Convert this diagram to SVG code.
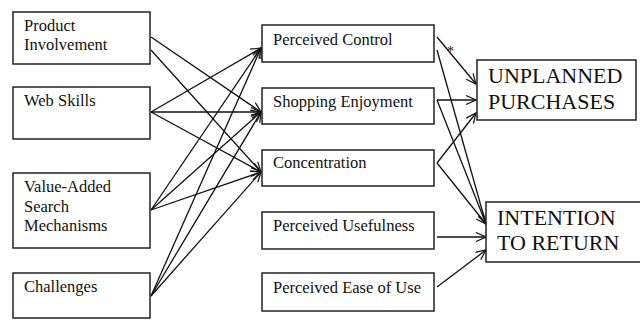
<svg xmlns="http://www.w3.org/2000/svg" width="640" height="320" viewBox="0 0 640 320">
<defs>
<marker id="ah" markerWidth="12" markerHeight="10" refX="11" refY="5" orient="auto" markerUnits="userSpaceOnUse">
<path d="M1,0.5 L11,5 L1,9.5" fill="none" stroke="#111" stroke-width="1.2"/>
</marker>
<style>
.box{fill:#fff;stroke:#222;stroke-width:1.5}
.t{font-family:"Liberation Serif","Times New Roman",serif;font-size:16.5px;fill:#111}
.big{font-family:"Liberation Serif","Times New Roman",serif;font-size:22px;fill:#111}
.c{fill:none;stroke:#111;stroke-width:1.3;marker-end:url(#ah)}
</style>
</defs>
<rect width="640" height="320" fill="#fff"/>
<g id="connectors">
<line class="c" x1="151" y1="37" x2="261" y2="112"/>
<line class="c" x1="151" y1="50" x2="261" y2="172"/>
<line class="c" x1="151" y1="112" x2="261" y2="48"/>
<line class="c" x1="151" y1="112" x2="261" y2="112"/>
<line class="c" x1="151" y1="112" x2="261" y2="172"/>
<line class="c" x1="151" y1="210" x2="261" y2="48"/>
<line class="c" x1="151" y1="210" x2="261" y2="112"/>
<line class="c" x1="151" y1="210" x2="261" y2="172"/>
<line class="c" x1="151" y1="296" x2="261" y2="48"/>
<line class="c" x1="151" y1="296" x2="261" y2="112"/>
<line class="c" x1="151" y1="296" x2="261" y2="172"/>
<line class="c" x1="437" y1="37" x2="476" y2="84"/>
<line class="c" x1="437" y1="50" x2="486" y2="224"/>
<line class="c" x1="437" y1="100" x2="476" y2="100"/>
<line class="c" x1="437" y1="100" x2="486" y2="224"/>
<line class="c" x1="437" y1="163" x2="476" y2="113"/>
<line class="c" x1="437" y1="163" x2="486" y2="224"/>
<line class="c" x1="437" y1="237" x2="486" y2="237"/>
<line class="c" x1="437" y1="287" x2="486" y2="250"/>
<text class="t" x="447" y="56" style="font-size:14px">*</text>
</g>
<g id="product-involvement"><rect class="box" x="13" y="12" width="137" height="52"/><text class="t" x="24" y="31">Product</text><text class="t" x="24" y="50">Involvement</text></g>
<g id="web-skills"><rect class="box" x="13" y="87" width="137" height="52"/><text class="t" x="24" y="106">Web Skills</text></g>
<g id="value-added"><rect class="box" x="13" y="173" width="137" height="75"/><text class="t" x="24" y="192">Value-Added</text><text class="t" x="24" y="212">Search</text><text class="t" x="24" y="231">Mechanisms</text></g>
<g id="challenges"><rect class="box" x="13" y="273" width="137" height="45"/><text class="t" x="24" y="292">Challenges</text></g>
<g id="perceived-control"><rect class="box" x="262" y="25" width="172" height="37"/><text class="t" x="273" y="45">Perceived Control</text></g>
<g id="shopping-enjoyment"><rect class="box" x="262" y="88" width="172" height="36"/><text class="t" x="273" y="107">Shopping Enjoyment</text></g>
<g id="concentration"><rect class="box" x="262" y="150" width="172" height="36"/><text class="t" x="273" y="168">Concentration</text></g>
<g id="perceived-usefulness"><rect class="box" x="262" y="212" width="172" height="37"/><text class="t" x="273" y="231">Perceived Usefulness</text></g>
<g id="perceived-ease"><rect class="box" x="262" y="273" width="172" height="38"/><text class="t" x="273" y="293">Perceived Ease of Use</text></g>
<g id="unplanned"><rect class="box" x="477" y="60" width="159" height="60"/><text class="big" x="488" y="83">UNPLANNED</text><text class="big" x="488" y="109">PURCHASES</text></g>
<g id="intention"><rect class="box" x="486" y="202" width="160" height="60"/><text class="big" x="497" y="225">INTENTION</text><text class="big" x="497" y="250">TO RETURN</text></g>
</svg>
